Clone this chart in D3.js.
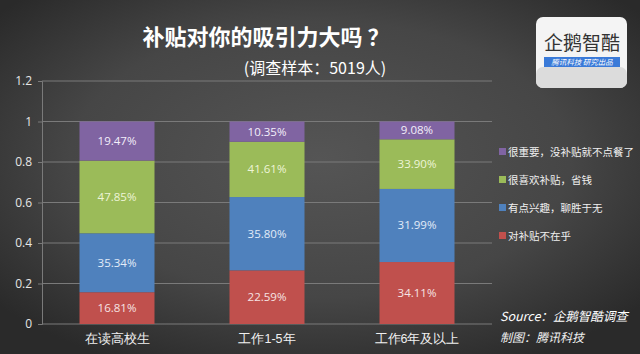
<!DOCTYPE html>
<html><head><meta charset="utf-8">
<script src="https://cdn.jsdelivr.net/npm/d3@7/dist/d3.min.js"></script>
<style>body{margin:0;background:#333;}svg{display:block;font-family:"Noto Sans CJK SC","Microsoft YaHei",sans-serif;}</style>
</head><body><svg id="c" width="640" height="354"></svg>
<script>
const categories = ["在读高校生", "工作1-5年", "工作6年及以上"];
const seriesNames = ["对补贴不在乎", "有点兴趣，聊胜于无", "很喜欢补贴，省钱", "很重要，没补贴就不点餐了"];
const seriesColors = ["#c0504d", "#4f81bd", "#9bbb59", "#8064a2"];
const labelColors = ["#f6e4e4", "#e3ecf8", "#eef5d8", "#f3effa"];
// segment heights as drawn (fraction of 1)
const notCare = [0.157, 0.265, 0.306];
const someInterest = [0.291, 0.362, 0.361];
const likeSubsidy = [0.359, 0.273, 0.245];
const veryImportant = [0.193, 0.100, 0.088];
// printed labels
const notCareLbl = ["16.81%", "22.59%", "34.11%"];
const someInterestLbl = ["35.34%", "35.80%", "31.99%"];
const likeSubsidyLbl = ["47.85%", "41.61%", "33.90%"];
const veryImportantLbl = ["19.47%", "10.35%", "9.08%"];
const yTicks = [0, 0.2, 0.4, 0.6, 0.8, 1, 1.2];

const series = [notCare, someInterest, likeSubsidy, veryImportant];
const labels = [notCareLbl, someInterestLbl, likeSubsidyLbl, veryImportantLbl];

const svg = d3.select("#c");
const defs = svg.append("defs");
const rg = defs.append("radialGradient").attr("id","bg").attr("cx","50%").attr("cy","45%").attr("r","65%");
rg.append("stop").attr("offset","0%").attr("stop-color","#555555");
rg.append("stop").attr("offset","60%").attr("stop-color","#464646");
rg.append("stop").attr("offset","100%").attr("stop-color","#2a2a2a");
svg.append("rect").attr("width",640).attr("height",354).attr("fill","url(#bg)");

const x = d3.scaleBand().domain(categories).range([42, 492]).paddingInner(0.5).paddingOuter(0.25);
const y = d3.scaleLinear().domain([0, 1.2]).range([324, 81]);

// gridlines
svg.append("g").selectAll("line").data(yTicks).join("line")
  .attr("x1", 42).attr("x2", 492).attr("y1", d => y(d)).attr("y2", d => y(d))
  .attr("stroke", "#7a7a7a").attr("stroke-width", 1);

// y axis
const yAxis = svg.append("g").attr("transform","translate(42,0)")
  .call(d3.axisLeft(y).tickValues(yTicks).tickSize(4).tickPadding(6).tickFormat(d => d3.format("~g")(d)));
yAxis.select(".domain").attr("stroke","#7a7a7a");
yAxis.selectAll(".tick line").attr("stroke","#7a7a7a");
yAxis.selectAll("text").attr("fill","#e6e6e6").style("font-size","12px").style("font-family","'Open Sans',sans-serif");

// x axis
const xAxis = svg.append("g").attr("transform","translate(0,324)")
  .call(d3.axisBottom(x).tickSize(0).tickPadding(10));
xAxis.select(".domain").remove();
xAxis.selectAll("text").attr("fill","#f0f0f0").style("font-size","12.5px");

// stacked bars
const stackData = categories.map((c, i) => {
  const o = {cat: c};
  series.forEach((s, k) => o["s" + k] = s[i]);
  return o;
});
const stack = d3.stack().keys(series.map((s,k)=>"s"+k))(stackData);
stack.forEach((layer, k) => {
  const g = svg.append("g");
  g.selectAll("rect").data(layer).join("rect")
    .attr("x", d => x(d.data.cat)).attr("width", x.bandwidth())
    .attr("y", d => y(d[1])).attr("height", d => y(d[0]) - y(d[1]))
    .attr("fill", seriesColors[k]);
  g.selectAll("text").data(layer).join("text")
    .attr("x", d => x(d.data.cat) + x.bandwidth()/2)
    .attr("y", d => (y(d[0]) + y(d[1]))/2 + 4)
    .attr("text-anchor","middle").attr("fill", labelColors[k])
    .style("font-size","11.5px").style("font-family","'Open Sans',sans-serif")
    .text((d,i) => labels[k][i]);
});

// legend
const legendOrder = [3,2,1,0];
const lg = svg.append("g");
legendOrder.forEach((k, j) => {
  const yy = 152 + j*28;
  lg.append("rect").attr("x",499).attr("y",yy-4).attr("width",7).attr("height",7).attr("fill",seriesColors[k]);
  lg.append("text").attr("x",508).attr("y",yy+4).attr("fill","#f0f0f0").style("font-size","10.5px").text(seriesNames[k]);
});

// titles
svg.append("text").attr("x",266).attr("y",45).attr("text-anchor","middle").attr("fill","#ffffff")
  .style("font-size","22px").style("font-weight","bold").text("补贴对你的吸引力大吗 ？");
svg.append("text").attr("x",315).attr("y",74).attr("text-anchor","middle").attr("fill","#ffffff")
  .style("font-size","16px").text("(调查样本：5019人)");

// source
svg.append("text").attr("x",500).attr("y",321).attr("fill","#ffffff").style("font-size","12.5px").style("font-style","italic").text("Source：企鹅智酷调查");
svg.append("text").attr("x",500).attr("y",342).attr("fill","#f0f0f0").style("font-size","12px").style("font-style","italic").text("制图：腾讯科技");

// logo
const logo = svg.append("g");
logo.append("rect").attr("x",536).attr("y",17).attr("width",91).attr("height",71).attr("rx",7).attr("fill","#f4f4f4");
logo.append("rect").attr("x",536).attr("y",67).attr("width",91).attr("height",21).attr("rx",7).attr("fill","#dcdcdc");
logo.append("text").attr("x",582).attr("y",50).attr("text-anchor","middle").attr("fill","#333").style("font-size","19px").text("企鹅智酷");
logo.append("rect").attr("x",544).attr("y",57).attr("width",76).attr("height",10).attr("fill","#3a7ad8");
logo.append("text").attr("x",582).attr("y",65).attr("text-anchor","middle").attr("fill","#fff").style("font-size","7.5px").style("font-style","italic").text("腾讯科技  研究出品");
</script></body></html>
